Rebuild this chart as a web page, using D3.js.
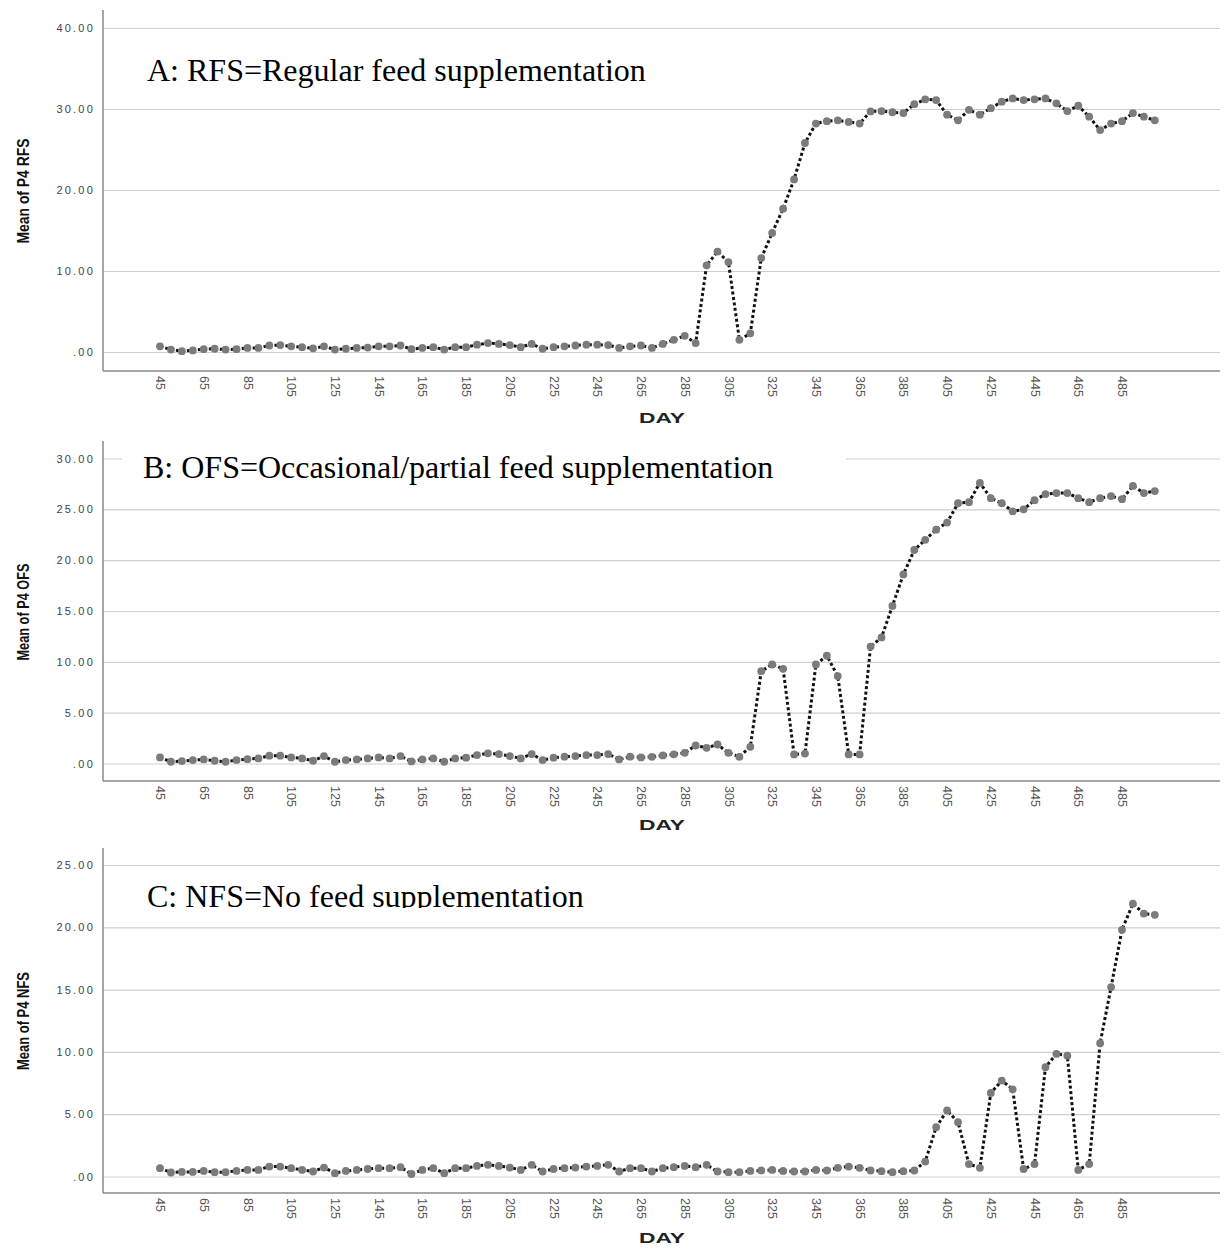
<!DOCTYPE html>
<html>
<head>
<meta charset="utf-8">
<script src="https://cdn.jsdelivr.net/npm/d3@7"></script>
<style>
body { margin: 0; background: #fff; }
svg { display: block; }
</style>
</head>
<body>
<div id="chart"></div>
<script>
// day categories (every 5 days)
var days = [45,50,55,60,65,70,75,80,85,90,95,100,105,110,115,120,125,130,135,140,
  145,150,155,160,165,170,175,180,185,190,195,200,205,210,215,220,225,230,235,240,
  245,250,255,260,265,270,275,280,285,290,295,300,305,310,315,320,325,330,335,340,
  345,350,355,360,365,370,375,380,385,390,395,400,405,410,415,420,425,430,435,440,
  445,450,455,460,465,470,475,480,485,490,495,500];

// A: regular feed supplementation
var rfs = [0.7,0.3,0.1,0.2,0.35,0.4,0.3,0.35,0.5,0.5,0.8,0.85,0.7,0.6,0.45,0.7,0.3,0.4,0.5,0.55,
  0.7,0.7,0.8,0.35,0.5,0.6,0.3,0.6,0.6,0.9,1.1,1.0,0.85,0.6,1.0,0.4,0.6,0.7,0.8,0.9,
  0.9,0.85,0.5,0.7,0.8,0.5,1.0,1.5,2.0,1.1,10.7,12.4,11.1,1.5,2.3,11.6,14.7,17.7,21.3,25.8,
  28.2,28.5,28.6,28.4,28.2,29.7,29.75,29.6,29.5,30.6,31.2,31.1,29.3,28.6,29.9,29.3,30.1,30.9,31.3,31.1,
  31.2,31.3,30.7,29.75,30.4,29.05,27.4,28.2,28.5,29.5,29.05,28.6];

// B: occasional/partial feed supplementation
var ofs = [0.6,0.17,0.23,0.33,0.4,0.27,0.17,0.33,0.43,0.5,0.77,0.77,0.6,0.5,0.27,0.73,0.17,0.33,0.4,0.5,
  0.6,0.5,0.73,0.2,0.4,0.5,0.17,0.5,0.57,0.83,1.0,0.93,0.73,0.5,0.93,0.33,0.57,0.67,0.73,0.83,
  0.83,0.93,0.4,0.67,0.6,0.66,0.79,0.9,1.05,1.77,1.54,1.87,1.05,0.66,1.64,9.08,9.74,9.31,0.89,0.98,
  9.74,10.6,8.6,0.89,0.89,11.5,12.4,15.5,18.6,21.0,22.0,23.0,23.7,25.6,25.7,27.6,26.1,25.6,24.8,25.0,
  25.9,26.5,26.6,26.6,26.1,25.7,26.1,26.3,26.0,27.3,26.6,26.8];

// C: no feed supplementation
var nfs = [0.67,0.32,0.37,0.37,0.45,0.35,0.35,0.45,0.53,0.53,0.8,0.8,0.67,0.53,0.4,0.72,0.27,0.45,0.53,0.6,
  0.67,0.67,0.75,0.2,0.53,0.67,0.27,0.67,0.67,0.85,0.94,0.85,0.72,0.53,0.94,0.4,0.6,0.67,0.72,0.8,
  0.85,0.94,0.4,0.67,0.67,0.4,0.67,0.75,0.85,0.75,0.94,0.4,0.35,0.35,0.45,0.48,0.53,0.45,0.4,0.4,
  0.53,0.48,0.7,0.8,0.7,0.48,0.43,0.35,0.43,0.48,1.2,3.96,5.3,4.36,1.0,0.7,6.7,7.7,7.0,0.6,
  1.0,8.77,9.84,9.7,0.53,1.0,10.7,15.2,19.8,21.9,21.1,21.0];

var dayTicks = [45,65,85,105,125,145,165,185,205,225,245,265,285,305,325,345,365,385,405,425,445,465,485];
var rfsTicks = [0,10,20,30,40];
var ofsTicks = [0,5,10,15,20,25,30];
var nfsTicks = [0,5,10,15,20,25];

var panelTitles = ["A: RFS=Regular feed supplementation",
                   "B: OFS=Occasional/partial feed supplementation",
                   "C: NFS=No feed supplementation"];
var yTitles = ["Mean of P4 RFS", "Mean of P4 OFS", "Mean of P4 NFS"];

var W = 1229, H = 1249;
var left = 103, right = 1220;

var svg = d3.select("#chart").append("svg")
    .attr("width", W)
    .attr("height", H);

// clip for panel C title (its descenders are cut off in the original)
svg.append("defs").append("clipPath").attr("id", "clipC")
    .append("rect").attr("x", 0).attr("y", 850).attr("width", W).attr("height", 58);

var panels = [
  { values: rfs, ticks: rfsTicks, top: 10, bottom: 371, zeroY: 352, maxY: 28,
    titleY: 81, dayY: 423, ytY: 191, ytLen: 105, box: null, clip: null },
  { values: ofs, ticks: ofsTicks, top: 441, bottom: 781, zeroY: 763.5, maxY: 458.5,
    titleY: 478, dayY: 830, ytY: 612, ytLen: 97, box: [122, 447, 724, 42], clip: null },
  { values: nfs, ticks: nfsTicks, top: 848, bottom: 1193, zeroY: 1176.5, maxY: 865,
    titleY: 907, dayY: 1243, ytY: 1021, ytLen: 98, box: null, clip: "url(#clipC)" }
];

var x = d3.scaleLinear().domain([45, 485]).range([160, 1122]);

panels.forEach(function (p, i) {
  var maxTick = p.ticks[p.ticks.length - 1];
  var y = d3.scaleLinear().domain([0, maxTick]).range([p.zeroY, p.maxY]);
  var g = svg.append("g");

  // y axis with gridlines
  var yAxis = g.append("g")
      .attr("transform", "translate(" + left + ",0)")
      .call(d3.axisLeft(y)
        .tickValues(p.ticks)
        .tickSize(-(right - left))
        .tickPadding(8)
        .tickFormat(function (d) { return d === 0 ? ".00" : d3.format(".2f")(d); }));
  yAxis.select(".domain").remove();
  yAxis.selectAll(".tick line").attr("stroke", "#cfcfcf").attr("stroke-width", 1.2);
  yAxis.selectAll(".tick text")
      .attr("font-family", "'Liberation Sans', Arial, sans-serif")
      .attr("font-size", 11)
      .attr("letter-spacing", 2.2)
      .attr("fill", "#444");

  // x axis
  var xAxis = g.append("g")
      .attr("transform", "translate(0," + p.bottom + ")")
      .call(d3.axisBottom(x).tickValues(dayTicks).tickSize(0).tickPadding(0));
  xAxis.select(".domain").remove();
  xAxis.selectAll(".tick text")
      .attr("transform", "rotate(90)")
      .attr("text-anchor", "start")
      .attr("x", 5)
      .attr("y", 0)
      .attr("dy", "0.35em")
      .attr("font-family", "'Liberation Sans', Arial, sans-serif")
      .attr("font-size", 12.5)
      .attr("fill", "#555");

  // axis lines
  g.append("line").attr("x1", left).attr("x2", left).attr("y1", p.top).attr("y2", p.bottom)
      .attr("stroke", "#8a8a8a").attr("stroke-width", 1.5);
  g.append("line").attr("x1", left).attr("x2", right).attr("y1", p.bottom).attr("y2", p.bottom)
      .attr("stroke", "#8a8a8a").attr("stroke-width", 1.5);

  // axis titles
  g.append("text")
      .attr("x", 662).attr("y", p.dayY)
      .attr("text-anchor", "middle")
      .attr("font-family", "'Liberation Sans', Arial, sans-serif")
      .attr("font-weight", "bold")
      .attr("font-size", 14)
      .attr("textLength", 46)
      .attr("lengthAdjust", "spacingAndGlyphs")
      .attr("fill", "#222")
      .text("DAY");

  g.append("text")
      .attr("transform", "translate(29," + p.ytY + ") rotate(-90)")
      .attr("text-anchor", "middle")
      .attr("font-family", "'Liberation Sans Narrow', 'Liberation Sans', Arial, sans-serif")
      .attr("font-weight", "bold")
      .attr("font-size", 17)
      .attr("textLength", p.ytLen)
      .attr("lengthAdjust", "spacingAndGlyphs")
      .attr("fill", "#111")
      .text(yTitles[i]);

  // data
  var pts = days.map(function (d, k) { return { day: d, v: p.values[k] }; });

  var line = d3.line()
      .x(function (d) { return x(d.day); })
      .y(function (d) { return y(d.v); });

  g.append("path")
      .datum(pts)
      .attr("fill", "none")
      .attr("stroke", "#111")
      .attr("stroke-width", 3)
      .attr("stroke-dasharray", "3,2.5")
      .attr("d", line);

  g.selectAll("circle.pt")
      .data(pts)
      .enter()
      .append("circle")
      .attr("class", "pt")
      .attr("cx", function (d) { return x(d.day); })
      .attr("cy", function (d) { return y(d.v); })
      .attr("r", 3.9)
      .attr("fill", "#7b7b7b");

  // panel title
  if (p.box) {
    g.append("rect").attr("x", p.box[0]).attr("y", p.box[1])
        .attr("width", p.box[2]).attr("height", p.box[3]).attr("fill", "#fff");
  }
  var t = g.append("text")
      .attr("x", i === 1 ? 143 : 147)
      .attr("y", p.titleY)
      .attr("font-family", "'Liberation Serif', 'Times New Roman', serif")
      .attr("font-size", 32)
      .attr("fill", "#000")
      .text(panelTitles[i]);
  if (p.clip) t.attr("clip-path", p.clip);
});
</script>
</body>
</html>
